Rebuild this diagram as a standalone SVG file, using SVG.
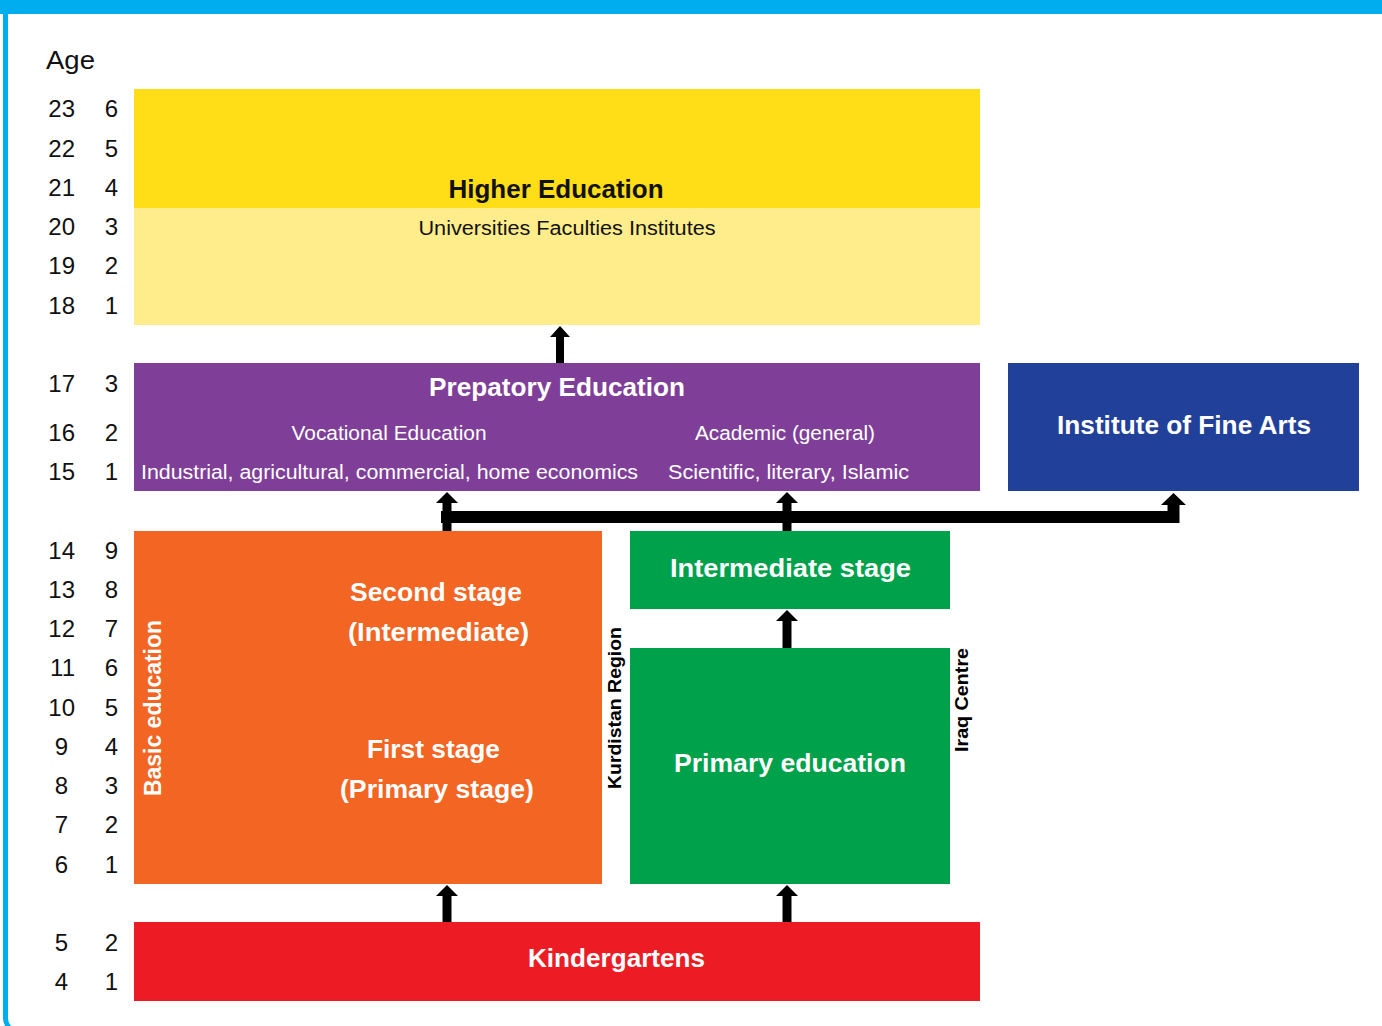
<svg xmlns="http://www.w3.org/2000/svg" width="1382" height="1026" viewBox="0 0 1382 1026">
<defs>
<style>
.num{font-family:"Liberation Sans",Arial,sans-serif;font-size:24px;fill:#111;text-anchor:end}
.t{font-family:"Liberation Sans",Arial,sans-serif;fill:#fff;text-anchor:middle}
.b{font-weight:bold}
.vl{font-family:"Liberation Sans",Arial,sans-serif;font-weight:bold;font-size:18px;fill:#000;text-anchor:middle}
.head{fill:#000}
</style>
</defs>
<rect width="1382" height="1026" fill="#fff"/>
<rect x="5.5" y="-30" width="1420" height="1062" rx="14" fill="none" stroke="#00AEEF" stroke-width="5"/>
<rect x="0" y="0" width="1382" height="14" fill="#00AEEF"/>
<g id="age-axis">
<text x="46" y="69" textLength="49" lengthAdjust="spacingAndGlyphs" style="font-family:'Liberation Sans',Arial,sans-serif;font-size:25px;fill:#111">Age</text>
<g class="num">
<text x="75" y="117">23</text><text x="118" y="117">6</text>
<text x="75" y="157">22</text><text x="118" y="157">5</text>
<text x="75" y="196">21</text><text x="118" y="196">4</text>
<text x="75" y="235">20</text><text x="118" y="235">3</text>
<text x="75" y="274">19</text><text x="118" y="274">2</text>
<text x="75" y="314">18</text><text x="118" y="314">1</text>
<text x="75" y="392">17</text><text x="118" y="392">3</text>
<text x="75" y="441">16</text><text x="118" y="441">2</text>
<text x="75" y="480">15</text><text x="118" y="480">1</text>
<text x="75" y="559">14</text><text x="118" y="559">9</text>
<text x="75" y="598">13</text><text x="118" y="598">8</text>
<text x="75" y="637">12</text><text x="118" y="637">7</text>
<text x="75" y="676">11</text><text x="118" y="676">6</text>
<text x="75" y="716">10</text><text x="118" y="716">5</text>
<text x="68" y="755">9</text><text x="118" y="755">4</text>
<text x="68" y="794">8</text><text x="118" y="794">3</text>
<text x="68" y="833">7</text><text x="118" y="833">2</text>
<text x="68" y="873">6</text><text x="118" y="873">1</text>
<text x="68" y="951">5</text><text x="118" y="951">2</text>
<text x="68" y="990">4</text><text x="118" y="990">1</text>
</g>
</g>
<g id="higher-education">
<rect x="134" y="89" width="846" height="119" fill="#FFDD17"/>
<rect x="134" y="208" width="846" height="117" fill="#FFEC8A"/>
<text class="t b" x="556" y="198" font-size="25" textLength="215" lengthAdjust="spacingAndGlyphs" style="fill:#111">Higher Education</text>
<text class="t" x="567" y="235" font-size="20" textLength="297" lengthAdjust="spacingAndGlyphs" style="fill:#111">Universities Faculties Institutes</text>
</g>
<g id="preparatory-education">
<rect x="134" y="363" width="846" height="128" fill="#7F3F98"/>
<text class="t b" x="557" y="396" font-size="26" textLength="256" lengthAdjust="spacingAndGlyphs">Prepatory Education</text>
<text class="t" x="389" y="440" font-size="20" textLength="195" lengthAdjust="spacingAndGlyphs">Vocational Education</text>
<text class="t" x="785" y="440" font-size="20" textLength="180" lengthAdjust="spacingAndGlyphs">Academic (general)</text>
<text class="t" x="389.5" y="479" font-size="20" textLength="497" lengthAdjust="spacingAndGlyphs">Industrial, agricultural, commercial, home economics</text>
<text class="t" x="788.5" y="479" font-size="20" textLength="241" lengthAdjust="spacingAndGlyphs">Scientific, literary, Islamic</text>
</g>
<g id="fine-arts">
<rect x="1008" y="363" width="351" height="128" fill="#21409A"/>
<text class="t b" x="1184" y="434" font-size="25" textLength="254" lengthAdjust="spacingAndGlyphs">Institute of Fine Arts</text>
</g>
<g id="basic-education">
<rect x="134" y="531" width="468" height="353" fill="#F26522"/>
<text class="t b" x="436" y="601" font-size="25" textLength="172" lengthAdjust="spacingAndGlyphs">Second stage</text>
<text class="t b" x="438.5" y="641" font-size="25" textLength="181" lengthAdjust="spacingAndGlyphs">(Intermediate)</text>
<text class="t b" x="433.5" y="758" font-size="25" textLength="133" lengthAdjust="spacingAndGlyphs">First stage</text>
<text class="t b" x="437" y="798" font-size="25" textLength="194" lengthAdjust="spacingAndGlyphs">(Primary stage)</text>
<text class="t b" transform="translate(161,708) rotate(-90)" x="0" y="0" font-size="23" textLength="176" lengthAdjust="spacingAndGlyphs">Basic education</text>
</g>
<g id="intermediate-stage">
<rect x="630" y="531" width="320" height="78" fill="#00A14B"/>
<text class="t b" x="790.5" y="577" font-size="25" textLength="241" lengthAdjust="spacingAndGlyphs">Intermediate stage</text>
</g>
<g id="primary-education">
<rect x="630" y="648" width="320" height="236" fill="#00A14B"/>
<text class="t b" x="790" y="772" font-size="25" textLength="232" lengthAdjust="spacingAndGlyphs">Primary education</text>
</g>
<g id="region-labels">
<text class="vl" transform="translate(621,708) rotate(-90)" textLength="162" lengthAdjust="spacingAndGlyphs">Kurdistan Region</text>
<text class="vl" transform="translate(968,700) rotate(-90)" textLength="104" lengthAdjust="spacingAndGlyphs">Iraq Centre</text>
</g>
<g id="kindergartens">
<rect x="134" y="922" width="846" height="79" fill="#ED1C24"/>
<text class="t b" x="616.5" y="967" font-size="25" textLength="177" lengthAdjust="spacingAndGlyphs">Kindergartens</text>
</g>
<g id="connectors">
<g stroke="#000" fill="none">
<line x1="560" y1="363" x2="560" y2="336" stroke-width="8"/>
<line x1="447" y1="531" x2="447" y2="502" stroke-width="9"/>
<line x1="787" y1="531" x2="787" y2="502" stroke-width="9"/>
<path d="M441,517 H1173.5 V503" stroke-width="12"/>
<line x1="787" y1="648" x2="787" y2="620" stroke-width="9"/>
<line x1="447" y1="922" x2="447" y2="895" stroke-width="9"/>
<line x1="787" y1="922" x2="787" y2="895" stroke-width="9"/>
</g>
<g class="head">
<polygon points="550,337 560,326 570,337"/>
<polygon points="436,503 447,492 458,503"/>
<polygon points="776,503 787,492 798,503"/>
<polygon points="1161,505 1173.5,493 1186,505"/>
<polygon points="776,621 787,610 798,621"/>
<polygon points="436,896 447,885 458,896"/>
<polygon points="776,896 787,885 798,896"/>
</g>
</g>
</svg>
